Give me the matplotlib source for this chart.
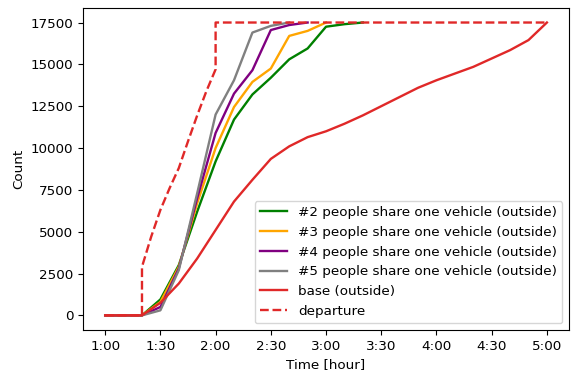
import matplotlib
matplotlib.use("Agg")
import matplotlib.pyplot as plt

# minutes after 1:00, sampled every 10 minutes
t_green = [0, 10, 20, 30, 40, 50, 60, 70, 80, 90, 100, 110, 120, 130, 140]
share2 = [0, 0, 0, 950, 3000, 6200, 9200, 11700, 13200, 14200, 15300, 15950, 17250, 17400, 17500]

t_orange = [0, 10, 20, 30, 40, 50, 60, 70, 80, 90, 100, 110, 120]
share3 = [0, 0, 0, 800, 2900, 6700, 10000, 12450, 13950, 14750, 16700, 17000, 17500]

t_purple = [0, 10, 20, 30, 40, 50, 60, 70, 80, 90, 100, 110]
share4 = [0, 0, 0, 500, 2800, 7000, 10900, 13250, 14650, 17050, 17350, 17500]

t_grey = [0, 10, 20, 30, 40, 50, 60, 70, 80, 90, 100]
share5 = [0, 0, 0, 300, 2700, 7300, 12000, 14050, 16900, 17300, 17500]

t_base = [0, 10, 20, 30, 40, 50, 60, 70, 80, 90, 100, 110, 120, 130, 140, 150,
          160, 170, 180, 190, 200, 210, 220, 230, 240]
base = [0, 0, 0, 750, 1900, 3400, 5100, 6800, 8100, 9350, 10100, 10650, 11000,
        11450, 11950, 12500, 13050, 13600, 14050, 14450, 14850, 15350, 15850, 16450, 17500]

t_dep = [0, 10, 20, 20, 25, 30, 35, 40, 45, 50, 55, 60, 60, 240]
departure = [0, 0, 0, 2900, 4700, 6300, 7600, 8800, 10400, 11950, 13400, 14700, 17500, 17500]

tick_min = [0, 30, 60, 90, 120, 150, 180, 210, 240]
tick_lbl = ['1:00', '1:30', '2:00', '2:30', '3:00', '3:30', '4:00', '4:30', '5:00']

plt.rcParams['font.size'] = 9.7
plt.rcParams['lines.linewidth'] = 1.7

fig, ax = plt.subplots(figsize=(5.73, 3.75), dpi=100)
fig.subplots_adjust(left=0.145, right=0.993, top=0.979, bottom=0.12)

ax.plot(t_green, share2, color='green', label='#2 people share one vehicle (outside)')
ax.plot(t_orange, share3, color='orange', label='#3 people share one vehicle (outside)')
ax.plot(t_purple, share4, color='purple', label='#4 people share one vehicle (outside)')
ax.plot(t_grey, share5, color='grey', label='#5 people share one vehicle (outside)')
ax.plot(t_base, base, color='#e02828', label='base (outside)')
ax.plot(t_dep, departure, color='#e02828', linestyle='--', label='departure')

ax.set_xticks(tick_min)
ax.set_xticklabels(tick_lbl)
ax.set_xlabel('Time [hour]')
ax.set_ylabel('Count')
ax.legend(loc='lower right')

fig.savefig('out.png')
